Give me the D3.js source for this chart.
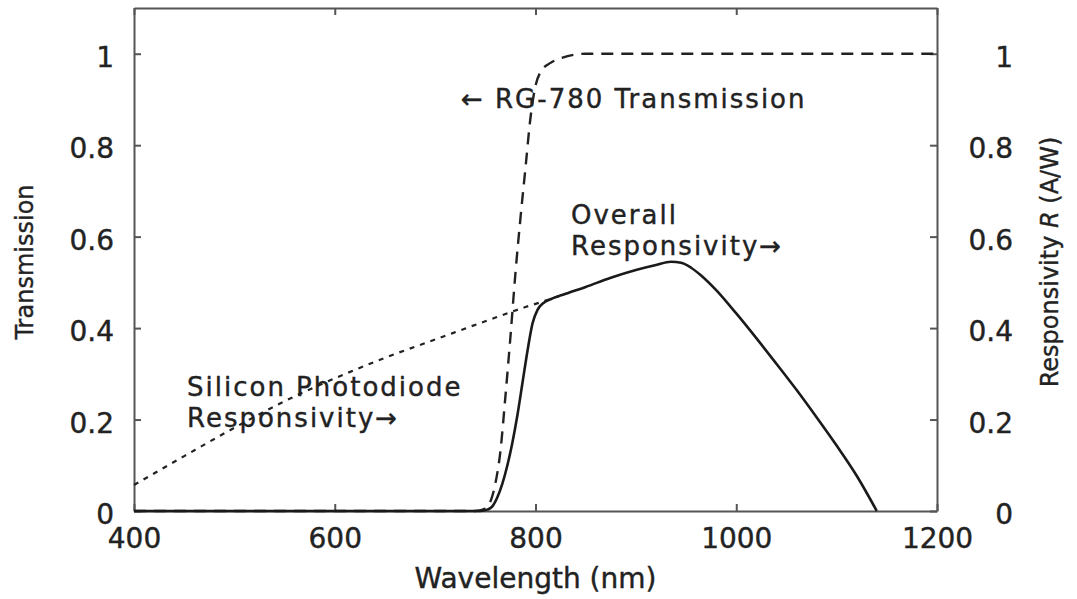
<!DOCTYPE html>
<html>
<head>
<meta charset="utf-8">
<script src="https://cdn.jsdelivr.net/npm/d3@7"></script>
<style>
	body { margin: 0; background: #fff; }
	text { font-family: "DejaVu Sans", sans-serif; fill: #222; stroke: #222; stroke-width: 0.4px; }
</style>
</head>
<body>
<svg id="chart" width="1077" height="599"></svg>
<script>
// RG-780 filter transmission (dashed)
var trans_wl = [400, 740, 750, 755, 760, 765, 770, 775, 780, 785, 790, 795, 800, 805, 815, 825, 850, 1200];
var trans_val = [0, 0, 0.005, 0.02, 0.06, 0.13, 0.25, 0.38, 0.52, 0.64, 0.75, 0.86, 0.93, 0.96, 0.98, 0.99, 1.0, 1.0];

// silicon photodiode responsivity (dotted)
var si_wl = [400, 450, 500, 550, 600, 650, 700, 750, 790, 810, 830];
var si_val = [0.057, 0.12, 0.182, 0.24, 0.29, 0.335, 0.375, 0.415, 0.446, 0.46, 0.475];

// overall responsivity (solid)
var all_wl = [400, 745, 752, 757, 762, 767, 772, 777, 782, 787, 792, 797, 802, 808, 815, 830, 850, 875, 900, 920, 935, 945, 955, 965, 980, 1000, 1020, 1040, 1060, 1080, 1100, 1120, 1140];
var all_val = [0, 0, 0.003, 0.01, 0.03, 0.06, 0.1, 0.15, 0.21, 0.28, 0.35, 0.41, 0.44, 0.455, 0.463, 0.475, 0.49, 0.51, 0.527, 0.538, 0.545, 0.543, 0.532, 0.515, 0.483, 0.432, 0.378, 0.322, 0.265, 0.205, 0.143, 0.077, 0];

var x_ticks = [400, 600, 800, 1000, 1200];
var y_ticks = [0, 0.2, 0.4, 0.6, 0.8, 1];
var y_tick_labels = ["0", "0.2", "0.4", "0.6", "0.8", "1"];

var svg = d3.select("#chart"),
	margin = {top: 8, left: 134, bottom: 88, right: 140},
	width = +svg.attr("width") - margin.left - margin.right,
	height = +svg.attr("height") - margin.top - margin.bottom;

var g = svg.append("g").attr("transform", `translate(${margin.left},${margin.top})`);

var x = d3.scaleLinear().domain([400, 1200]).range([0, width]);
var y = d3.scaleLinear().domain([0, 1.1]).range([height, 0]);

function zip(a, b) { return a.map((d, i) => ({wl: d, v: b[i]})); }

var line = d3.line()
	.x(d => x(d.wl))
	.y(d => y(d.v))
	.curve(d3.curveMonotoneX);

// axes, ticks pointing inward
var fmt = d => y_tick_labels[y_ticks.indexOf(d)];

var xAxis = g.append("g").attr("class", "x-axis")
	.attr("transform", `translate(0,${height})`)
	.call(d3.axisBottom(x).tickValues(x_ticks).tickFormat(d3.format("d")).tickSizeInner(-7).tickSizeOuter(0).tickPadding(17));

var xTop = g.append("g").attr("class", "x-top")
	.call(d3.axisTop(x).tickValues(x_ticks).tickFormat("").tickSizeInner(-7).tickSizeOuter(0));

var yAxis = g.append("g").attr("class", "y-axis")
	.call(d3.axisLeft(y).tickValues(y_ticks).tickFormat(fmt).tickSizeInner(-7).tickSizeOuter(0).tickPadding(20));

var yRight = g.append("g").attr("class", "y-right")
	.attr("transform", `translate(${width},0)`)
	.call(d3.axisRight(y).tickValues(y_ticks).tickFormat(fmt).tickSizeInner(-7).tickSizeOuter(0));

yRight.selectAll("text")
	.attr("text-anchor", "end")
	.attr("x", 76);

svg.selectAll(".domain, .tick line")
	.attr("stroke", "#555")
	.attr("stroke-width", 2);

svg.selectAll(".x-axis text, .y-axis text, .y-right text")
	.attr("font-family", "DejaVu Sans")
	.style("font-size", "28px")
	.attr("fill", "#222");

g.selectAll(".y-axis text, .y-right text").attr("dy", "0.45em");

// curves
g.append("path")
	.datum(zip(si_wl, si_val))
	.attr("fill", "none")
	.attr("stroke", "#222")
	.attr("stroke-width", 2.2)
	.attr("stroke-dasharray", "5,6")
	.attr("d", line);

g.append("path")
	.datum(zip(trans_wl, trans_val))
	.attr("fill", "none")
	.attr("stroke", "#222")
	.attr("stroke-width", 2.4)
	.attr("stroke-dasharray", "12,8")
	.attr("d", line);

g.append("path")
	.datum(zip(all_wl, all_val))
	.attr("fill", "none")
	.attr("stroke", "#1a1a1a")
	.attr("stroke-width", 2.6)
	.attr("d", line);

// axis titles
svg.append("text")
	.attr("x", margin.left + width / 2)
	.attr("y", 588)
	.attr("text-anchor", "middle")
	.style("font-size", "28px")
	.text("Wavelength (nm)");

svg.append("text")
	.attr("transform", "translate(33,262) rotate(-90)")
	.attr("text-anchor", "middle")
	.style("font-size", "24px")
	.text("Transmission");

var rt = svg.append("text")
	.attr("transform", "translate(1058,262) rotate(-90)")
	.attr("text-anchor", "middle")
	.style("font-size", "24px");
rt.append("tspan").text("Responsivity ");
rt.append("tspan").style("font-style", "italic").text("R");
rt.append("tspan").text(" (A/W)");

// annotations, one text per line
function note(px, py, lines) {
	lines.forEach((s, i) => {
		svg.append("text")
			.attr("x", px)
			.attr("y", py + i * 31)
			.style("font-size", "26px")
			.style("letter-spacing", "2px")
			.text(s);
	});
}

note(461, 108, ["\u2190 RG-780 Transmission"]);
note(571, 224, ["Overall", "Responsivity\u2192"]);
note(187, 396, ["Silicon Photodiode", "Responsivity\u2192"]);
</script>
</body>
</html>
